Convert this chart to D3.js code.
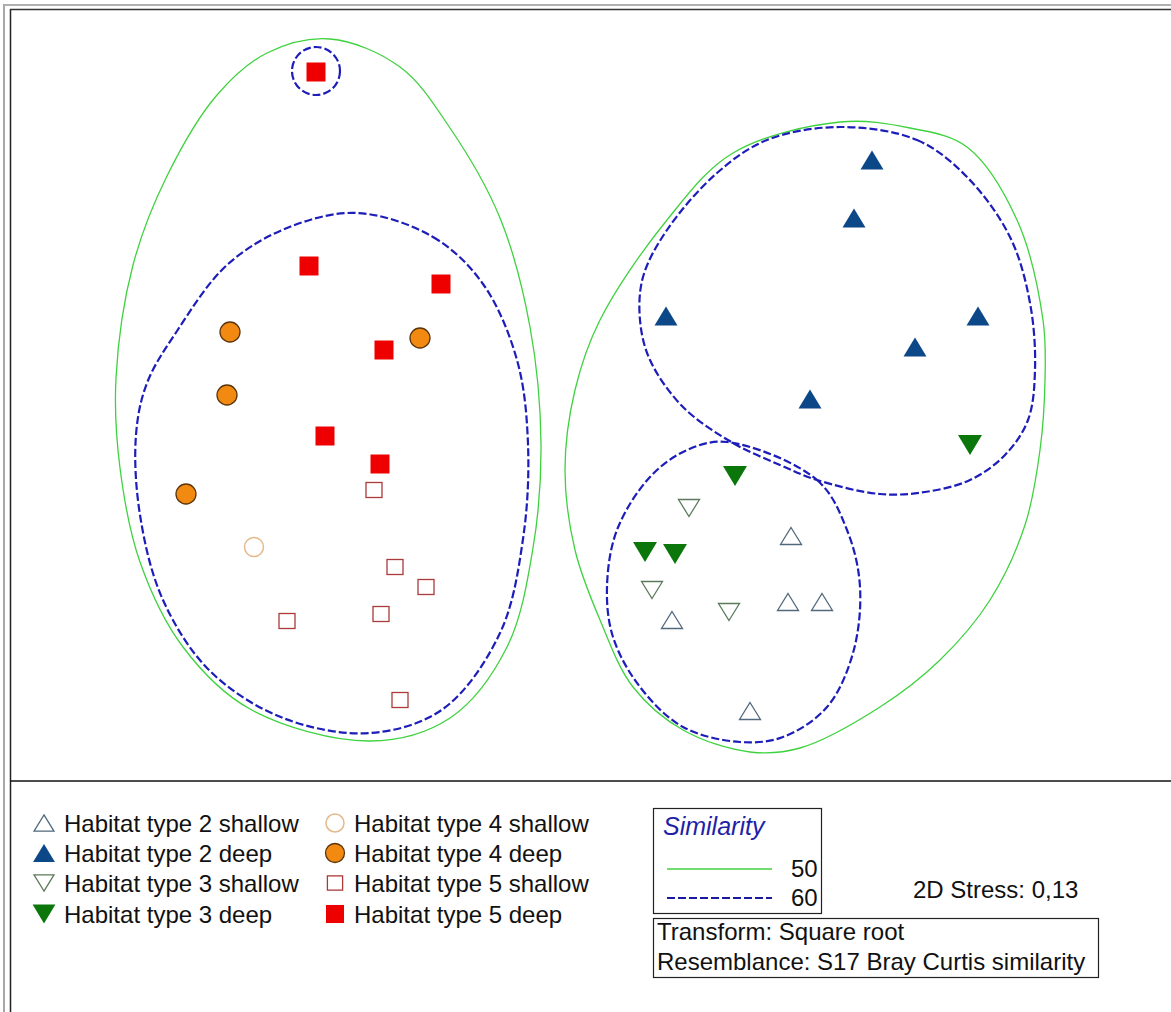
<!DOCTYPE html>
<html><head><meta charset="utf-8">
<script src="https://cdn.jsdelivr.net/npm/d3@7"></script>
<style>
html,body{margin:0;padding:0;background:#fff;}
svg{display:block;font-family:"Liberation Sans",Arial,sans-serif;}
</style></head><body>
<svg id="chart" width="1171" height="1012"></svg>
<script>
// nMDS ordination scores (MDS1, MDS2) per sample group
const hab2Shallow = [[0.804,-0.544],[0.328,-0.880],[0.792,-0.808],[0.928,-0.808],[0.640,-1.244]];
const hab2Deep    = [[1.128,0.960],[1.056,0.728],[0.304,0.336],[1.552,0.336],[1.300,0.212],[0.880,0.004]];
const hab3Shallow = [[0.396,-0.432],[0.248,-0.760],[0.556,-0.848]];
const hab3Deep    = [[1.520,-0.180],[0.580,-0.304],[0.220,-0.608],[0.340,-0.616]];
const hab4Shallow = [[-1.344,-0.588]];
const hab4Deep    = [[-1.440,0.272],[-0.680,0.248],[-1.452,0.020],[-1.616,-0.376]];
const hab5Shallow = [[-0.864,-0.360],[-0.780,-0.668],[-0.656,-0.748],[-1.212,-0.884],[-0.836,-0.856],[-0.760,-1.200]];
const hab5Deep    = [[-1.096,1.312],[-1.124,0.536],[-0.596,0.464],[-0.824,0.200],[-1.060,-0.144],[-0.840,-0.256]];

const seriesLabels = ["Habitat type 2 shallow","Habitat type 2 deep","Habitat type 3 shallow","Habitat type 3 deep",
                      "Habitat type 4 shallow","Habitat type 4 deep","Habitat type 5 shallow","Habitat type 5 deep"];

// Cluster similarity contours (outlines in ordination space)
const sim50Left = [[-1.040,1.444],[-0.760,1.332],[-0.560,1.088],[-0.360,0.728],[-0.240,0.292],[-0.196,-0.176],
  [-0.228,-0.592],[-0.332,-0.988],[-0.560,-1.272],[-0.880,-1.364],[-1.360,-1.236],[-1.628,-0.988],[-1.800,-0.648],
  [-1.880,-0.272],[-1.896,0.088],[-1.828,0.540],[-1.692,0.896],[-1.492,1.220],[-1.292,1.388]];
const sim50Right = [[1.000,1.112],[1.280,1.088],[1.508,1.012],[1.708,0.720],[1.812,0.320],[1.820,0.080],[1.800,-0.200],
  [1.740,-0.500],[1.600,-0.800],[1.400,-1.040],[1.160,-1.228],[0.840,-1.392],[0.640,-1.408],[0.372,-1.320],
  [0.172,-1.148],[0.040,-0.880],[-0.060,-0.600],[-0.100,-0.280],[-0.060,0.040],[0.040,0.320],[0.308,0.720],[0.572,0.988]];
const sim60Left = [[-0.932,0.748],[-0.628,0.652],[-0.428,0.464],[-0.292,0.160],[-0.248,-0.176],[-0.268,-0.556],
  [-0.360,-0.932],[-0.588,-1.236],[-0.880,-1.332],[-1.228,-1.272],[-1.520,-1.084],[-1.708,-0.800],[-1.800,-0.460],
  [-1.816,-0.140],[-1.772,0.068],[-1.652,0.276],[-1.452,0.540],[-1.212,0.688]];
const sim60UpperRight = [[1.000,1.092],[1.308,1.040],[1.508,0.892],[1.680,0.652],[1.760,0.388],[1.780,0.120],
  [1.752,-0.080],[1.660,-0.220],[1.520,-0.320],[1.340,-0.368],[1.160,-0.376],[0.908,-0.320],[0.760,-0.260],
  [0.572,-0.172],[0.372,-0.028],[0.240,0.160],[0.200,0.320],[0.212,0.492],[0.308,0.680],[0.508,0.908],[0.708,1.040]];
const sim60LowerRight = [[0.548,-0.168],[0.908,-0.320],[1.028,-0.520],[1.080,-0.748],[1.052,-1.012],[0.948,-1.228],
  [0.772,-1.348],[0.600,-1.368],[0.372,-1.308],[0.200,-1.148],[0.092,-0.948],[0.068,-0.748],[0.108,-0.520],
  [0.240,-0.308],[0.388,-0.200]];
const sim60Single = {center:[-1.096,1.316], radius:0.096};

const similarityTitle = "Similarity";
const similarityLevels = ["50","60"];
const stressText = "2D Stress: 0,13";
const infoLines = ["Transform: Square root","Resemblance: S17 Bray Curtis similarity"];

// ---- layout ----
const svg = d3.select("#chart");
const W = 1171, H = 1012, plotBottom = 781;
const x = d3.scaleLinear().domain([-2.32, 2.324]).range([10, 1171]);
const y = d3.scaleLinear().domain([-1.524, 1.56]).range([plotBottom, 10]);

const GREEN = "#3fd23f", BLUE = "#1d1db9";
const FS = 24;

// frame
svg.append("rect").attr("x",0).attr("y",0).attr("width",W).attr("height",H).attr("fill","#fff");
svg.append("line").attr("x1",4).attr("x2",4).attr("y1",4).attr("y2",H).attr("stroke","#a8a8a8").attr("stroke-width",2);
svg.append("line").attr("x1",4).attr("x2",W).attr("y1",5).attr("y2",5).attr("stroke","#b0b0b0").attr("stroke-width",2);
svg.append("line").attr("x1",10.5).attr("x2",10.5).attr("y1",9).attr("y2",H).attr("stroke","#222").attr("stroke-width",1.5);
svg.append("line").attr("x1",10).attr("x2",W).attr("y1",9.5).attr("y2",9.5).attr("stroke","#333").attr("stroke-width",1.5);
svg.append("line").attr("x1",10).attr("x2",W).attr("y1",plotBottom).attr("y2",plotBottom).attr("stroke","#111").attr("stroke-width",1.5);

// contours
const outline = d3.line().x(d=>x(d[0])).y(d=>y(d[1])).curve(d3.curveCatmullRomClosed.alpha(0.5));
const gC = svg.append("g");
[sim50Left, sim50Right].forEach(c => gC.append("path").attr("d", outline(c))
  .attr("fill","none").attr("stroke",GREEN).attr("stroke-width",1.3));
[sim60Left, sim60UpperRight, sim60LowerRight].forEach(c => gC.append("path").attr("d", outline(c))
  .attr("fill","none").attr("stroke",BLUE).attr("stroke-width",2.2).attr("stroke-dasharray","8,3"));
gC.append("circle").attr("cx", x(sim60Single.center[0])).attr("cy", y(sim60Single.center[1]))
  .attr("r", x(sim60Single.radius) - x(0))
  .attr("fill","none").attr("stroke",BLUE).attr("stroke-width",2.2).attr("stroke-dasharray","8,3");

// marker styles
const styles = [
  {kind:"triUp",   fill:"#fff",    stroke:"#52687c", sw:1.3, w:21, h:17},
  {kind:"triUp",   fill:"#0c4787", stroke:"none",    sw:0,   w:23, h:19},
  {kind:"triDown", fill:"#fff",    stroke:"#5b7a5b", sw:1.3, w:21, h:17},
  {kind:"triDown", fill:"#0b770b", stroke:"none",    sw:0,   w:24, h:20},
  {kind:"circle",  fill:"#fff",    stroke:"#e4b98c", sw:1.5, w:19, h:19},
  {kind:"circle",  fill:"#f28a12", stroke:"#5b340a", sw:1.3, w:20, h:20},
  {kind:"square",  fill:"#fff",    stroke:"#ab3a3a", sw:1.3, w:16, h:15},
  {kind:"square",  fill:"#ee0000", stroke:"none",    sw:0,   w:19, h:19}
];
const seriesData = [hab2Shallow, hab2Deep, hab3Shallow, hab3Deep, hab4Shallow, hab4Deep, hab5Shallow, hab5Deep];

function shape(g, st, scale){
  const w = st.w*scale, h = st.h*scale;
  let el;
  if (st.kind === "circle") el = g.append("ellipse").attr("rx", w/2).attr("ry", h/2);
  else if (st.kind === "square") el = g.append("rect").attr("x",-w/2).attr("y",-h/2).attr("width",w).attr("height",h);
  else if (st.kind === "triUp") el = g.append("path").attr("d",`M0,${-h/2}L${w/2},${h/2}L${-w/2},${h/2}Z`);
  else el = g.append("path").attr("d",`M0,${h/2}L${w/2},${-h/2}L${-w/2},${-h/2}Z`);
  el.attr("fill", st.fill).attr("stroke", st.stroke).attr("stroke-width", st.sw);
}

const gP = svg.append("g");
seriesData.forEach((pts, i) => {
  pts.forEach(p => {
    const g = gP.append("g").attr("transform", `translate(${x(p[0])},${y(p[1])})`);
    shape(g, styles[i], 1);
  });
});

// legend of groups
const gL = svg.append("g");
const rowY = [823, 853, 883, 914];
seriesLabels.forEach((lab, i) => {
  const col = Math.floor(i/4), row = i % 4;
  const mx = col === 0 ? 44 : 335, tx = col === 0 ? 64 : 354;
  const g = gL.append("g").attr("transform", `translate(${mx},${rowY[row]})`);
  shape(g, styles[i], 0.95);
  gL.append("text").attr("x", tx).attr("y", rowY[row] + 8.5).attr("font-size", FS).attr("fill","#111").text(lab);
});

// similarity key
const gS = svg.append("g");
gS.append("rect").attr("x",653.5).attr("y",808.5).attr("width",168).attr("height",105)
  .attr("fill","#fff").attr("stroke","#222").attr("stroke-width",1.2);
gS.append("text").attr("x",663).attr("y",835).attr("font-size",25).attr("font-style","italic")
  .attr("fill","#1f1fa8").text(similarityTitle);
gS.append("line").attr("x1",667).attr("x2",772).attr("y1",869).attr("y2",869).attr("stroke",GREEN).attr("stroke-width",1.3);
gS.append("line").attr("x1",667).attr("x2",772).attr("y1",898).attr("y2",898).attr("stroke","#1a1aa0")
  .attr("stroke-width",2).attr("stroke-dasharray","8,3");
similarityLevels.forEach((lv, i) => gS.append("text").attr("x",791).attr("y", 877 + i*29)
  .attr("font-size",FS).attr("fill","#111").text(lv));

svg.append("text").attr("x",913).attr("y",898).attr("font-size",FS).attr("fill","#111").text(stressText);

const gI = svg.append("g");
gI.append("rect").attr("x",653.5).attr("y",918.5).attr("width",445).attr("height",59)
  .attr("fill","#fff").attr("stroke","#222").attr("stroke-width",1.2);
infoLines.forEach((t, i) => gI.append("text").attr("x",657).attr("y", 940 + i*30)
  .attr("font-size",FS).attr("fill","#111").text(t));
</script>
</body></html>
